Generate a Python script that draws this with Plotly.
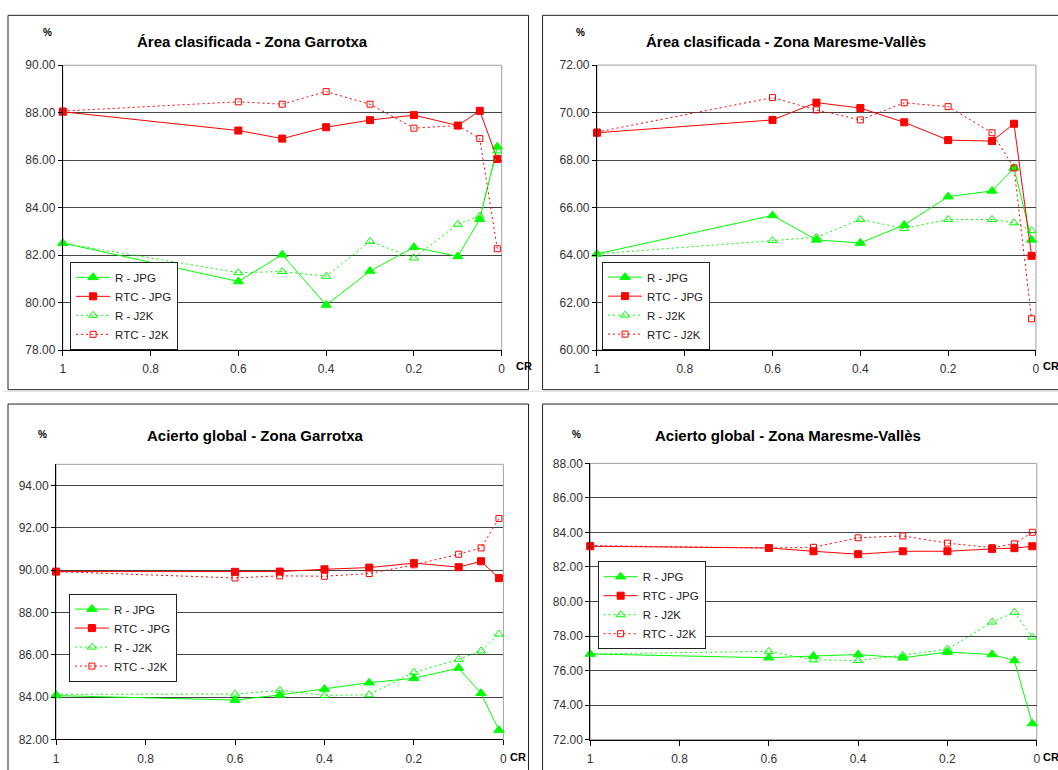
import plotly.graph_objects as go

W, H = 1058, 770

# Compression ratio values (x axis)
cr = [1, 0.6, 0.5, 0.4, 0.3, 0.2, 0.1, 0.05, 0.01]
x_ticks = [1, 0.8, 0.6, 0.4, 0.2, 0]
x_tick_labels = ["1", "0.8", "0.6", "0.4", "0.2", "0"]
series_names = ["R - JPG", "RTC - JPG", "R - J2K", "RTC - J2K"]

# Área clasificada - Zona Garrotxa
area_garrotxa_r_jpg = [82.51, 80.89, 82.02, 79.90, 81.33, 82.33, 81.95, 83.51, 86.57]
area_garrotxa_rtc_jpg = [88.04, 87.25, 86.91, 87.39, 87.69, 87.90, 87.46, 88.08, 86.05]
area_garrotxa_r_j2k = [82.50, 81.26, 81.31, 81.11, 82.58, 81.88, 83.30, 83.65, 86.39]
area_garrotxa_rtc_j2k = [88.07, 88.46, 88.36, 88.89, 88.36, 87.35, 87.46, 86.91, 82.27]

# Área clasificada - Zona Maresme-Vallès
area_maresme_r_jpg = [64.05, 65.67, 64.64, 64.51, 65.27, 66.46, 66.70, 67.67, 64.64]
area_maresme_rtc_jpg = [69.15, 69.69, 70.42, 70.19, 69.59, 68.84, 68.80, 69.53, 63.97]
area_maresme_r_j2k = [64.05, 64.61, 64.75, 65.50, 65.12, 65.50, 65.50, 65.36, 65.03]
area_maresme_rtc_j2k = [69.18, 70.63, 70.11, 69.69, 70.41, 70.25, 69.15, 67.67, 61.32]

# Acierto global - Zona Garrotxa
acierto_garrotxa_r_jpg = [84.07, 83.86, 84.10, 84.38, 84.68, 84.89, 85.37, 84.18, 82.44]
acierto_garrotxa_rtc_jpg = [89.93, 89.92, 89.93, 90.04, 90.12, 90.33, 90.14, 90.42, 89.62]
acierto_garrotxa_r_j2k = [84.13, 84.14, 84.32, 84.08, 84.11, 85.17, 85.78, 86.18, 86.98]
acierto_garrotxa_rtc_j2k = [89.93, 89.63, 89.73, 89.71, 89.84, 90.25, 90.75, 91.05, 92.44]

# Acierto global - Zona Maresme-Vallès
acierto_maresme_r_jpg = [76.96, 76.74, 76.84, 76.93, 76.74, 77.07, 76.93, 76.58, 72.93]
acierto_maresme_rtc_jpg = [83.20, 83.10, 82.91, 82.74, 82.91, 82.91, 83.05, 83.09, 83.20]
acierto_maresme_r_j2k = [76.96, 77.11, 76.62, 76.58, 76.89, 77.24, 78.81, 79.37, 77.94]
acierto_maresme_rtc_j2k = [83.24, 83.10, 83.14, 83.69, 83.80, 83.38, 83.12, 83.34, 84.01]

GREEN = "#00ff00"
RED = "#ff0000"
FONT = "Liberation Sans, Arial, sans-serif"

series_styles = [
    dict(color=GREEN, dash="solid", symbol="triangle-up", size=9),
    dict(color=RED, dash="solid", symbol="square", size=7),
    dict(color=GREEN, dash="2px,3px", symbol="triangle-up-open", size=8),
    dict(color=RED, dash="2px,3px", symbol="square-open", size=6),
]

# Layout positions are given in sheet pixels and converted to paper units below
panels = [
    dict(title="Área clasificada - Zona Garrotxa",
         data=[area_garrotxa_r_jpg, area_garrotxa_rtc_jpg, area_garrotxa_r_j2k, area_garrotxa_rtc_j2k],
         yrange=[78, 90], px_x=(63.2, 501.5), px_y=(65.5, 349.5),
         title_pos=(252.5, 41.7), pct_pos=(48.3, 33.3), cr_pos=(514, 365.7),
         legend_pos=(70.5, 261.5)),
    dict(title="Área clasificada - Zona Maresme-Vallès",
         data=[area_maresme_r_jpg, area_maresme_rtc_jpg, area_maresme_r_j2k, area_maresme_rtc_j2k],
         yrange=[60, 72], px_x=(596.6, 1035.0), px_y=(65.3, 349.5),
         title_pos=(785.3, 41.7), pct_pos=(580.4, 33.3), cr_pos=(1040.5, 365.7),
         legend_pos=(601.7, 261.3)),
    dict(title="Acierto global - Zona Garrotxa",
         data=[acierto_garrotxa_r_jpg, acierto_garrotxa_rtc_jpg, acierto_garrotxa_r_j2k, acierto_garrotxa_rtc_j2k],
         yrange=[82, 95], px_x=(56.5, 503.2), px_y=(463.4, 737.7),
         title_pos=(255.2, 435.0), pct_pos=(42.9, 433.3), cr_pos=(508, 755.7),
         legend_pos=(69.3, 592.3)),
    dict(title="Acierto global - Zona Maresme-Vallès",
         data=[acierto_maresme_r_jpg, acierto_maresme_rtc_jpg, acierto_maresme_r_j2k, acierto_maresme_rtc_j2k],
         yrange=[72, 88], px_x=(589.9, 1035.8), px_y=(462.5, 737.9),
         title_pos=(787.6, 435.0), pct_pos=(576.3, 433.3), cr_pos=(1040.5, 755.7),
         legend_pos=(597.3, 560.0)),
]

# Sheet-pixel to canvas mapping (origin offset and scale)
ORIGIN_X, SCALE_X = 3.5, 0.992
ORIGIN_Y, SCALE_Y = 7.4, 0.979


def fx(px):
    return ((px - ORIGIN_X) / SCALE_X) / W


def fy(py):
    return 1 - ((py - ORIGIN_Y) / SCALE_Y) / H


fig = go.Figure()
layout = dict(
    width=W, height=H,
    margin=dict(l=0, r=0, t=0, b=0, pad=0),
    paper_bgcolor="white", plot_bgcolor="white",
    font=dict(family=FONT, size=12, color="#222"),
    showlegend=True,
)
annotations = []
shapes = []

# Outer frames around each chart block
frames = [(8.5, 15.7, 528.3, 389.0), (542.3, 15.7, 1075, 389.0),
          (8.5, 403.3, 528.3, 790), (542.3, 403.3, 1075, 790)]
for x0, y0, x1, y1 in frames:
    shapes.append(dict(type="rect", xref="paper", yref="paper",
                       x0=fx(x0), x1=fx(x1), y0=fy(y1), y1=fy(y0),
                       line=dict(color="#222", width=1), layer="below"))
shapes.append(dict(type="line", xref="paper", yref="paper",
                   x0=0, x1=1.02, y0=fy(390.5), y1=fy(390.5),
                   line=dict(color="#d8d8d8", width=1), layer="below"))

for i, p in enumerate(panels):
    n = "" if i == 0 else str(i + 1)
    xa, ya = "x" + n, "y" + n
    leg = "legend" + n
    for name, vals, st in zip(series_names, p["data"], series_styles):
        fig.add_trace(go.Scatter(
            x=cr, y=vals, name=name, mode="lines+markers",
            xaxis=xa, yaxis=ya, legend=leg, cliponaxis=False,
            line=dict(color=st["color"], width=1, dash=st["dash"]),
            marker=dict(symbol=st["symbol"], size=st["size"], color=st["color"],
                        line=dict(color=st["color"], width=1)),
        ))
    layout["xaxis" + n] = dict(
        domain=[fx(p["px_x"][0]), fx(p["px_x"][1])], anchor=ya,
        range=[1, 0], tickvals=x_ticks, ticktext=x_tick_labels,
        showgrid=False, zeroline=False, showline=True, linecolor="#000", linewidth=1,
        ticks="outside", ticklen=5, tickcolor="#000", ticklabelstandoff=3,
        tickfont=dict(size=12, color="#333", family=FONT),
    )
    layout["yaxis" + n] = dict(
        domain=[fy(p["px_y"][1]), fy(p["px_y"][0])], anchor=xa,
        range=p["yrange"], dtick=2, tick0=0, tickformat=".2f",
        showgrid=True, gridcolor="#444", gridwidth=1, zeroline=False,
        showline=True, linecolor="#000", linewidth=1,
        ticks="outside", ticklen=4, tickcolor="#000",
        tickfont=dict(size=12, color="#333", family=FONT),
    )
    # Plot area border (top and right edges in grey)
    shapes.append(dict(type="rect", xref=xa + " domain", yref=ya + " domain",
                       x0=0, x1=1, y0=0, y1=1,
                       line=dict(color="#a0a0a0", width=1), layer="below"))
    layout[leg] = dict(
        x=fx(p["legend_pos"][0]), y=fy(p["legend_pos"][1]),
        xanchor="left", yanchor="top", xref="paper", yref="paper",
        bgcolor="white", bordercolor="#222", borderwidth=1,
        font=dict(size=11.5, color="#222", family=FONT),
        itemwidth=34, tracegroupgap=0, traceorder="normal",
    )
    annotations.append(dict(text="<b>" + p["title"] + "</b>", xref="paper", yref="paper",
                            x=fx(p["title_pos"][0]), y=fy(p["title_pos"][1]),
                            xanchor="center", yanchor="middle", showarrow=False,
                            font=dict(size=15, color="#000", family=FONT)))
    annotations.append(dict(text="<b>%</b>", xref="paper", yref="paper",
                            x=fx(p["pct_pos"][0]), y=fy(p["pct_pos"][1]),
                            xanchor="center", yanchor="middle", showarrow=False,
                            font=dict(size=10, color="#000", family=FONT)))
    annotations.append(dict(text="<b>CR</b>", xref="paper", yref="paper",
                            x=fx(p["cr_pos"][0]), y=fy(p["cr_pos"][1]),
                            xanchor="left", yanchor="middle", showarrow=False,
                            font=dict(size=11, color="#000", family=FONT)))

layout["annotations"] = annotations
layout["shapes"] = shapes
fig.update_layout(**layout)
fig.write_html("out.html")
